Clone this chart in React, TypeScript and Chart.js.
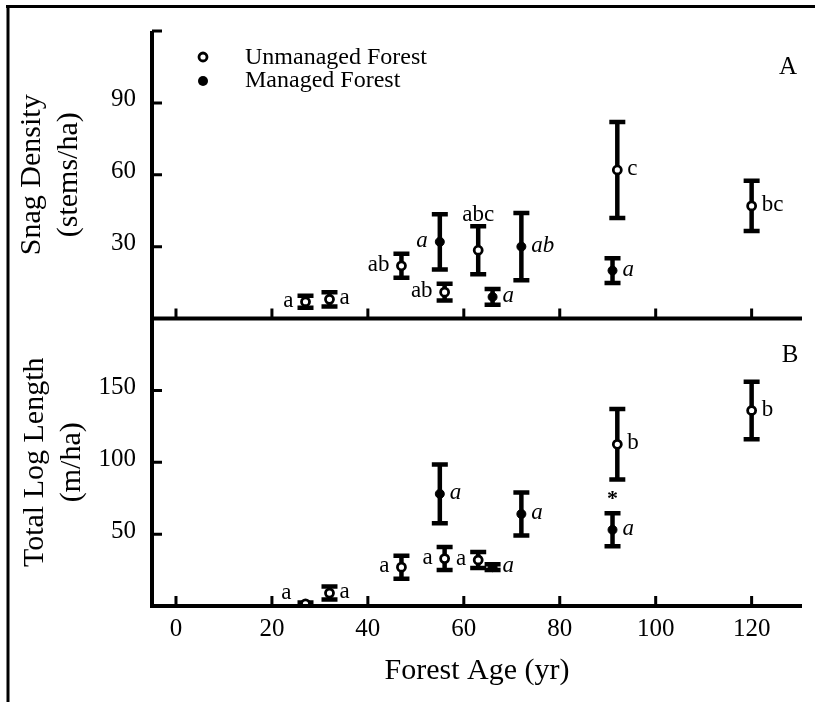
import React, { useEffect, useRef } from 'react';
import { Chart, registerables } from 'chart.js';

Chart.register(...registerables);

const FONT = "'Liberation Serif', 'Times New Roman', serif";

// Forest ages (yr)
const unmanagedAges = [27, 32, 47, 56, 63, 92, 120];
const managedAges = [55, 66, 72, 91];

// Panel A: snag density (stems/ha)
const snagUnmanaged = [7, 8, 22, 11, 28.5, 62, 47];
const snagUnmanagedErr = [2.5, 3, 5, 3.5, 10, 20, 10.5];
const snagUnmanagedLetters = ['a', 'a', 'ab', 'ab', 'abc', 'c', 'bc'];
const snagUnmanagedSide = ['l', 'r', 'l', 'l', 't', 'r', 'r'];

const snagManaged = [32, 9, 30, 20];
const snagManagedErr = [11.5, 3.3, 14, 5.2];
const snagManagedLetters = ['a', 'a', 'ab', 'a'];
const snagManagedSide = ['l', 'r', 'r', 'r'];

// Panel B: total log length (m/ha)
const logUnmanaged = [1.5, 9, 27, 33, 32, 112.5, 136];
const logUnmanagedErr = [1, 4.5, 8, 8, 5.5, 24.5, 20];
const logUnmanagedLetters = ['a', 'a', 'a', 'a', 'a', 'b', 'b'];
const logUnmanagedSide = ['tl', 'r', 'l', 'l', 'l', 'r', 'r'];

const logManaged = [78, 27, 64, 53];
const logManagedErr = [20.5, 2, 15, 11.5];
const logManagedLetters = ['a', 'a', 'a', 'a'];
const logManagedSide = ['r', 'r', 'r', 'r'];
const logSignificantAges = [91];

// Tick labels
const ageTicks = [0, 20, 40, 60, 80, 100, 120];
const snagTicks = [30, 60, 90];
const logTicks = [50, 100, 150];

type Series = {
  axis: string;
  ages: number[];
  values: number[];
  errs: number[];
  letters: string[];
  sides: string[];
  managed: boolean;
  stars?: number[];
};

const series: Series[] = [
  { axis: 'yA', ages: unmanagedAges, values: snagUnmanaged, errs: snagUnmanagedErr, letters: snagUnmanagedLetters, sides: snagUnmanagedSide, managed: false },
  { axis: 'yA', ages: managedAges, values: snagManaged, errs: snagManagedErr, letters: snagManagedLetters, sides: snagManagedSide, managed: true },
  { axis: 'yB', ages: unmanagedAges, values: logUnmanaged, errs: logUnmanagedErr, letters: logUnmanagedLetters, sides: logUnmanagedSide, managed: false },
  { axis: 'yB', ages: managedAges, values: logManaged, errs: logManagedErr, letters: logManagedLetters, sides: logManagedSide, managed: true, stars: logSignificantAges },
];

const overlay = {
  id: 'overlay',
  beforeDatasetsDraw(chart: any) {
    const ctx = chart.ctx;
    const xs = chart.scales.x;
    ctx.save();
    ctx.strokeStyle = '#000';
    ctx.lineWidth = 4.5;
    ctx.lineCap = 'butt';
    for (const s of series) {
      const ys = chart.scales[s.axis];
      s.ages.forEach((age, i) => {
        const px = xs.getPixelForValue(age);
        const top = ys.getPixelForValue(s.values[i] + s.errs[i]);
        const bot = ys.getPixelForValue(s.values[i] - s.errs[i]);
        ctx.beginPath();
        ctx.moveTo(px, top);
        ctx.lineTo(px, bot);
        ctx.moveTo(px - 8, top);
        ctx.lineTo(px + 8, top);
        ctx.moveTo(px - 8, bot);
        ctx.lineTo(px + 8, bot);
        ctx.stroke();
      });
    }
    ctx.restore();
  },
  afterDatasetsDraw(chart: any) {
    const ctx = chart.ctx;
    const xs = chart.scales.x;
    const area = chart.chartArea;
    ctx.save();
    ctx.fillStyle = '#000';
    ctx.textBaseline = 'alphabetic';
    for (const s of series) {
      const ys = chart.scales[s.axis];
      ctx.font = (s.managed ? 'italic ' : '') + '23px ' + FONT;
      s.ages.forEach((age, i) => {
        const px = xs.getPixelForValue(age);
        const py = ys.getPixelForValue(s.values[i]);
        const top = ys.getPixelForValue(s.values[i] + s.errs[i]);
        const side = s.sides[i];
        const txt = s.letters[i];
        if (side === 'r') {
          ctx.textAlign = 'left';
          ctx.fillText(txt, px + 10, py + 5);
        } else if (side === 'l') {
          ctx.textAlign = 'right';
          ctx.fillText(txt, px - 12, py + 5);
        } else if (side === 't') {
          ctx.textAlign = 'center';
          ctx.fillText(txt, px, top - 5);
        } else if (side === 'tl') {
          ctx.textAlign = 'right';
          ctx.fillText(txt, px - 14, py - 5);
        }
        if (s.stars && s.stars.includes(age)) {
          ctx.save();
          ctx.font = 'bold 22px ' + FONT;
          ctx.textAlign = 'center';
          ctx.fillText('*', px, top - 8);
          ctx.restore();
        }
      });
    }

    // Legend
    const lx = 203;
    ctx.lineWidth = 2.8;
    ctx.strokeStyle = '#000';
    ctx.beginPath();
    ctx.arc(lx, 57, 4, 0, Math.PI * 2);
    ctx.fillStyle = '#fff';
    ctx.fill();
    ctx.stroke();
    ctx.beginPath();
    ctx.arc(lx, 81, 5, 0, Math.PI * 2);
    ctx.fillStyle = '#000';
    ctx.fill();
    ctx.font = '24px ' + FONT;
    ctx.textAlign = 'left';
    ctx.textBaseline = 'middle';
    ctx.fillText('Unmanaged Forest', 245, 58);
    ctx.fillText('Managed Forest', 245, 81);

    // Panel letters
    ctx.font = '25px ' + FONT;
    ctx.textAlign = 'center';
    ctx.fillText('A', area.right - 14, chart.scales.yA.top + 36);
    ctx.fillText('B', area.right - 12, chart.scales.yB.top + 37);
    ctx.restore();
  },
  afterDraw(chart: any) {
    const ctx = chart.ctx;
    const area = chart.chartArea;
    const xs = chart.scales.x;
    const yA = chart.scales.yA;
    const yB = chart.scales.yB;
    ctx.save();
    ctx.strokeStyle = '#000';
    ctx.lineCap = 'butt';
    // outer frame (top & left)
    ctx.lineWidth = 3;
    ctx.beginPath();
    ctx.moveTo(6, 6.5);
    ctx.lineTo(815, 6.5);
    ctx.moveTo(8, 5);
    ctx.lineTo(8, 702);
    ctx.stroke();

    // axes lines
    ctx.lineWidth = 4;
    const yLineX = area.left;
    const baseA = yA.getPixelForValue(0);
    const baseB = yB.getPixelForValue(0);
    ctx.beginPath();
    ctx.moveTo(yLineX, area.top);
    ctx.lineTo(yLineX, baseB + 2);
    ctx.moveTo(area.left - 2, baseA);
    ctx.lineTo(area.right, baseA);
    ctx.moveTo(area.left - 2, baseB);
    ctx.lineTo(area.right, baseB);
    ctx.stroke();

    // inward ticks
    ctx.lineWidth = 3;
    ctx.beginPath();
    for (const v of ageTicks) {
      const px = xs.getPixelForValue(v);
      ctx.moveTo(px, baseA - 1);
      ctx.lineTo(px, baseA - 10);
      ctx.moveTo(px, baseB - 1);
      ctx.lineTo(px, baseB - 10);
    }
    for (const v of [...snagTicks, yA.max]) {
      const py = yA.getPixelForValue(v);
      ctx.moveTo(yLineX, py);
      ctx.lineTo(yLineX + 10, py);
    }
    for (const v of logTicks) {
      const py = yB.getPixelForValue(v);
      ctx.moveTo(yLineX, py);
      ctx.lineTo(yLineX + 10, py);
    }
    ctx.stroke();
    ctx.restore();
  },
};

export default function App() {
  const ref = useRef<HTMLCanvasElement>(null);
  useEffect(() => {
    if (!ref.current) return;
    const tickFont = { family: FONT, size: 25 };
    const chart = new Chart(ref.current, {
      type: 'scatter',
      data: {
        datasets: series.map((s) => ({
          label: s.managed ? 'Managed Forest' : 'Unmanaged Forest',
          yAxisID: s.axis,
          data: s.ages.map((a, i) => ({ x: a, y: s.values[i] })),
          pointStyle: 'circle',
          pointRadius: s.managed ? 4.5 : 4,
          pointBorderWidth: s.managed ? 1 : 2.8,
          pointBackgroundColor: s.managed ? '#000' : '#fff',
          pointBorderColor: '#000',
          showLine: false,
        })),
      },
      options: {
        animation: false,
        responsive: false,
        devicePixelRatio: 1,
        events: [],
        layout: { padding: { top: 20, right: 13, left: 0, bottom: 0 } },
        plugins: { legend: { display: false }, tooltip: { enabled: false } },
        scales: {
          x: {
            type: 'linear',
            position: 'bottom',
            min: -5,
            max: 130.5,
            afterBuildTicks: (s: any) => {
              s.ticks = ageTicks.map((v) => ({ value: v }));
            },
            afterFit: (s: any) => {
              s.height = 96;
            },
            grid: { display: false, drawTicks: false },
            border: { display: false },
            ticks: { font: tickFont, color: '#000', padding: 8, maxRotation: 0, autoSkip: false },
            title: {
              display: true,
              text: 'Forest Age (yr)',
              color: '#000',
              font: { family: FONT, size: 30, lineHeight: 1.2 },
              padding: { top: 0, bottom: 13 },
            },
          },
          yA: {
            type: 'linear',
            position: 'left',
            stack: 'panels',
            stackWeight: 1,
            weight: 1,
            min: 0,
            max: 120,
            afterBuildTicks: (s: any) => {
              s.ticks = snagTicks.map((v) => ({ value: v }));
            },
            afterFit: (s: any) => {
              s.width = 152;
            },
            grid: { display: false, drawTicks: false },
            border: { display: false },
            ticks: { font: tickFont, color: '#000', padding: 16, labelOffset: -3 },
            title: {
              display: true,
              text: ['Snag Density', '(stems/ha)'],
              color: '#000',
              font: { family: FONT, size: 30, lineHeight: 1.233 },
              padding: { top: 14, bottom: 0 },
            },
          },
          yB: {
            type: 'linear',
            position: 'left',
            stack: 'panels',
            stackWeight: 1,
            weight: 0,
            min: 0,
            max: 200,
            afterBuildTicks: (s: any) => {
              s.ticks = logTicks.map((v) => ({ value: v }));
            },
            afterFit: (s: any) => {
              s.width = 152;
            },
            grid: { display: false, drawTicks: false },
            border: { display: false },
            ticks: { font: tickFont, color: '#000', padding: 16, labelOffset: -3 },
            title: {
              display: true,
              text: ['Total Log Length', '(m/ha)'],
              color: '#000',
              font: { family: FONT, size: 30, lineHeight: 1.233 },
              padding: { top: 17, bottom: 0 },
            },
          },
        },
      } as any,
      plugins: [overlay],
    });
    return () => chart.destroy();
  }, []);
  return (
    <div style={{ position: 'absolute', left: 0, top: 0, width: 815, height: 702, background: '#fff' }}>
      <canvas ref={ref} width={815} height={702} style={{ display: 'block', width: 815, height: 702 }} />
    </div>
  );
}
